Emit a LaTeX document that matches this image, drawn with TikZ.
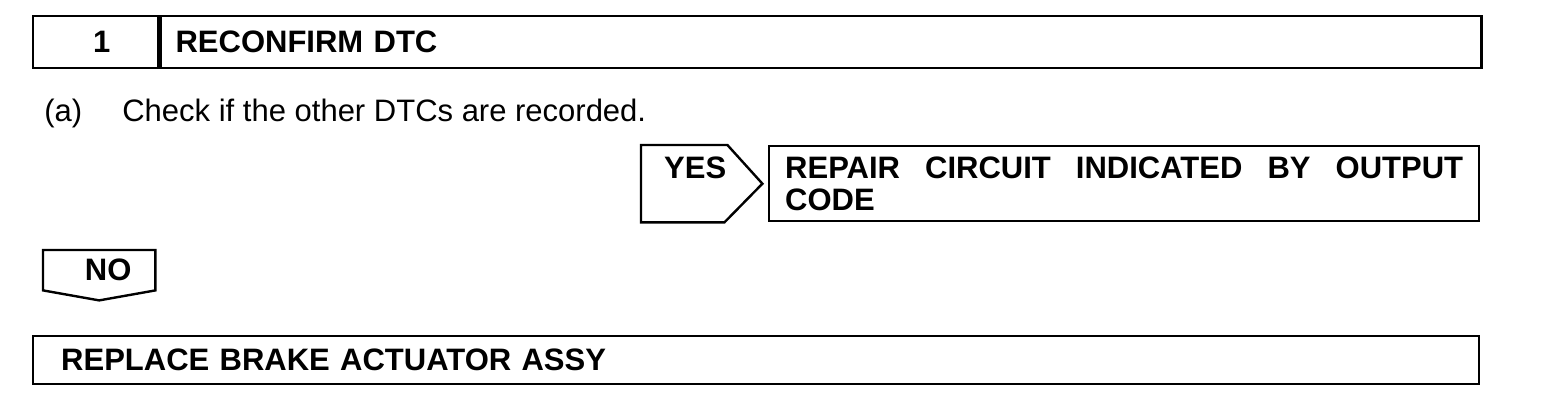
\documentclass[tikz,border=0pt]{standalone}
\usepackage{fontspec}
\setmainfont{Liberation Sans}
\usetikzlibrary{positioning}
\newcommand{\heightbar}{26pt}
\newcommand{\heightanswer}{37.5pt}
\newcommand{\sizetext}{\fontsize{15.5}{16}\selectfont}
\tikzset{
    common/.style={draw, rectangle, line width=1.2pt, inner sep=0pt, anchor=north west, font=\sizetext\bfseries},
    bar/.style={common, minimum height=\heightbar},
    answer/.style={common, minimum height=\heightanswer},
    tag/.style={common, draw=none},
    outline/.style={line width=1.2pt}
}
\begin{document}
\begin{tikzpicture}
\useasboundingbox (0,0) rectangle (784pt,-205pt);
\node[bar, minimum width=62.5pt] (num) at (16pt,-7.5pt) {\hspace{6pt}1};
\node[bar, minimum width=660.5pt, text width=645.5pt, inner xsep=7.5pt, align=left] (title) at (num.north east) {RECONFIRM DTC};
\node[anchor=base west, inner sep=0pt, font=\sizetext] (check) at (22pt,-61pt) {\makebox[39pt][l]{(a)}Check if the other DTCs are recorded.};

\node[tag, minimum width=42pt, minimum height=\heightanswer, text width=42pt, align=right] (yes) at (320.5pt,-72.5pt) {YES\\\mbox{}};
\node[answer, minimum width=355pt, text width=339pt, inner xsep=8pt, align=justify] (repair) at (384pt,-72.5pt) {REPAIR CIRCUIT INDICATED BY OUTPUT CODE};
\draw[outline] (yes.north west) -- (yes.north east) -- ([xshift=17.5pt]yes.east) -- ([xshift=-1.5pt]yes.south east) -- (yes.south west) -- cycle;

\node[tag, minimum width=55pt, minimum height=19pt] (no) at (21.5pt,-125pt) {\hspace{9pt}NO};
\draw[outline] (no.north west) -- (no.north east) -- (no.south east) -- ([yshift=-5pt]no.south) -- (no.south west) -- cycle;

\node[bar, minimum width=723pt, minimum height=24pt, text width=695pt, inner xsep=14pt, align=left] (replace) at (16pt,-167.5pt) {REPLACE BRAKE ACTUATOR ASSY};
\end{tikzpicture}
\end{document}
